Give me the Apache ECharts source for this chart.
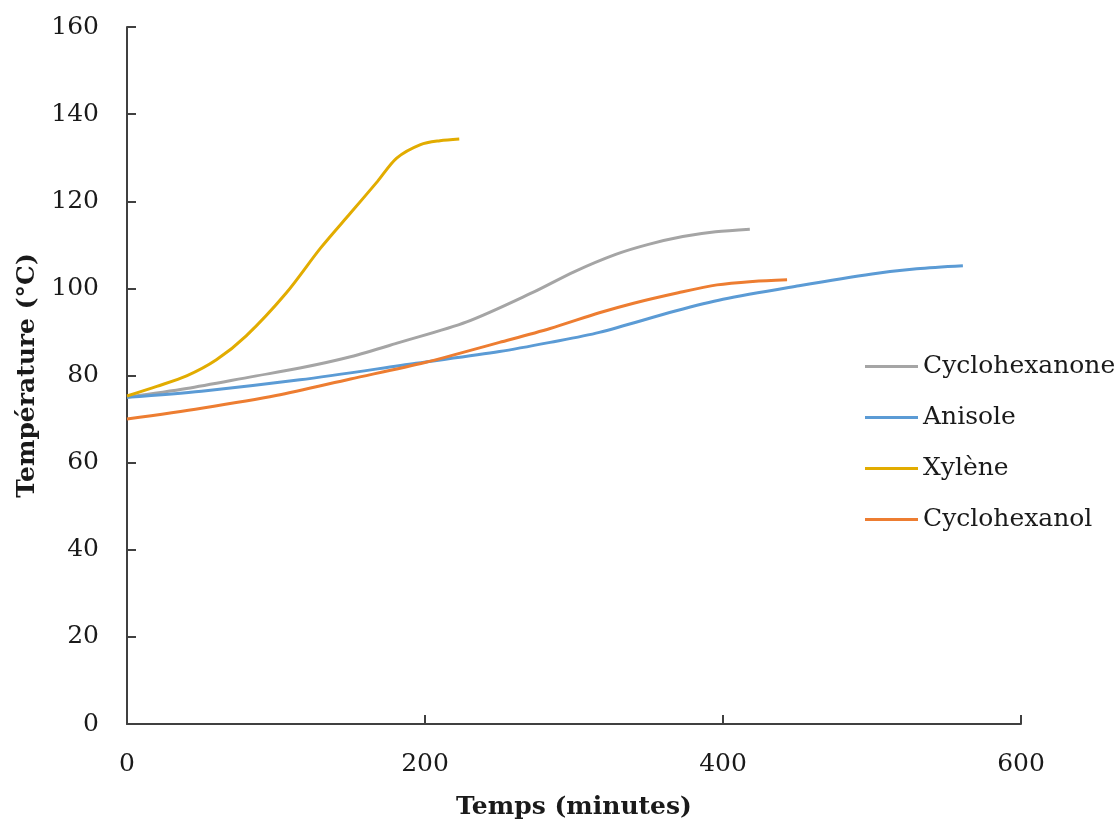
<!DOCTYPE html>
<html>
<head>
<meta charset="utf-8">
<script src="https://cdn.jsdelivr.net/npm/echarts@6/dist/echarts.min.js"></script>
<style>html,body{margin:0;padding:0;background:#fff}#chart{width:1120px;height:825px}</style>
</head>
<body>
<div id="chart"></div>
<script>
const seriesNames = ['Cyclohexanone', 'Anisole', 'Xylène', 'Cyclohexanol'];
const cyclohexanone = [[0,75],[40,77],[85,79.8],[116,81.7],[150,84.3],[183,87.6],[228,92.3],[272,99],[300,103.8],[328,107.8],[350,110.1],[373,111.9],[395,113],[418,113.6]];
const anisole = [[0,75],[50,76.4],[116,79],[194,82.8],[250,85.5],[284,87.6],[317,89.9],[368,94.8],[400,97.5],[451,100.6],[500,103.3],[530,104.5],[561,105.2]];
const xylene = [[0,75.3],[20,77.5],[40,79.9],[60,83.6],[80,89.1],[107,99],[130,109.3],[150,117.3],[168,124.5],[181,129.9],[197,133],[210,133.9],[223,134.3]];
const cyclohexanol = [[0,70],[50,72.5],[100,75.4],[150,79.2],[200,83],[250,87.6],[284,90.8],[317,94.4],[340,96.6],[370,99],[396,100.8],[420,101.6],[443,102]];
const xTicks = {min: 0, max: 600, interval: 200};
const yTicks = {min: 0, max: 160, interval: 20};
const xTitle = 'Temps (minutes)';
const yTitle = 'Température (°C)';

const colors = ['#A5A5A5', '#5B9BD5', '#E2AC00', '#ED7D31'];
const dataSets = [cyclohexanone, anisole, xylene, cyclohexanol];
const font = 'DejaVu Serif';

const chart = echarts.init(document.getElementById('chart'), null, {renderer: 'canvas'});
chart.setOption({
  animation: false,
  color: colors,
  grid: {left: 127, right: 99, top: 27, bottom: 99},
  legend: {
    orient: 'vertical', left: 865, top: 354, padding: 0, icon: 'rect', itemWidth: 53, itemHeight: 3, itemGap: 26,
    textStyle: {fontFamily: font, fontSize: 25, color: '#1a1a1a'},
    data: seriesNames
  },
  xAxis: {
    type: 'value', min: xTicks.min, max: xTicks.max, interval: xTicks.interval,
    name: xTitle, nameLocation: 'middle', nameGap: 71,
    nameTextStyle: {fontFamily: font, fontSize: 25, fontWeight: 'bold', color: '#1a1a1a'},
    axisLine: {lineStyle: {color: '#404040', width: 2}},
    axisTick: {inside: true, length: 9, lineStyle: {color: '#404040', width: 2}},
    axisLabel: {fontFamily: font, fontSize: 25, color: '#1a1a1a', margin: 28},
    splitLine: {show: false}
  },
  yAxis: {
    type: 'value', min: yTicks.min, max: yTicks.max, interval: yTicks.interval,
    name: yTitle, nameLocation: 'middle', nameGap: 86, nameRotate: 90,
    nameTextStyle: {fontFamily: font, fontSize: 25, fontWeight: 'bold', color: '#1a1a1a'},
    axisLine: {show: true, lineStyle: {color: '#404040', width: 2}},
    axisTick: {show: true, inside: true, length: 9, lineStyle: {color: '#404040', width: 2}},
    axisLabel: {fontFamily: font, fontSize: 25, color: '#1a1a1a', margin: 28},
    splitLine: {show: false}
  },
  series: seriesNames.map((n, i) => ({
    name: n, type: 'line', data: dataSets[i], smooth: 0.3, symbol: 'none',
    lineStyle: {width: 3, color: colors[i]}
  }))
});
</script>
</body>
</html>
